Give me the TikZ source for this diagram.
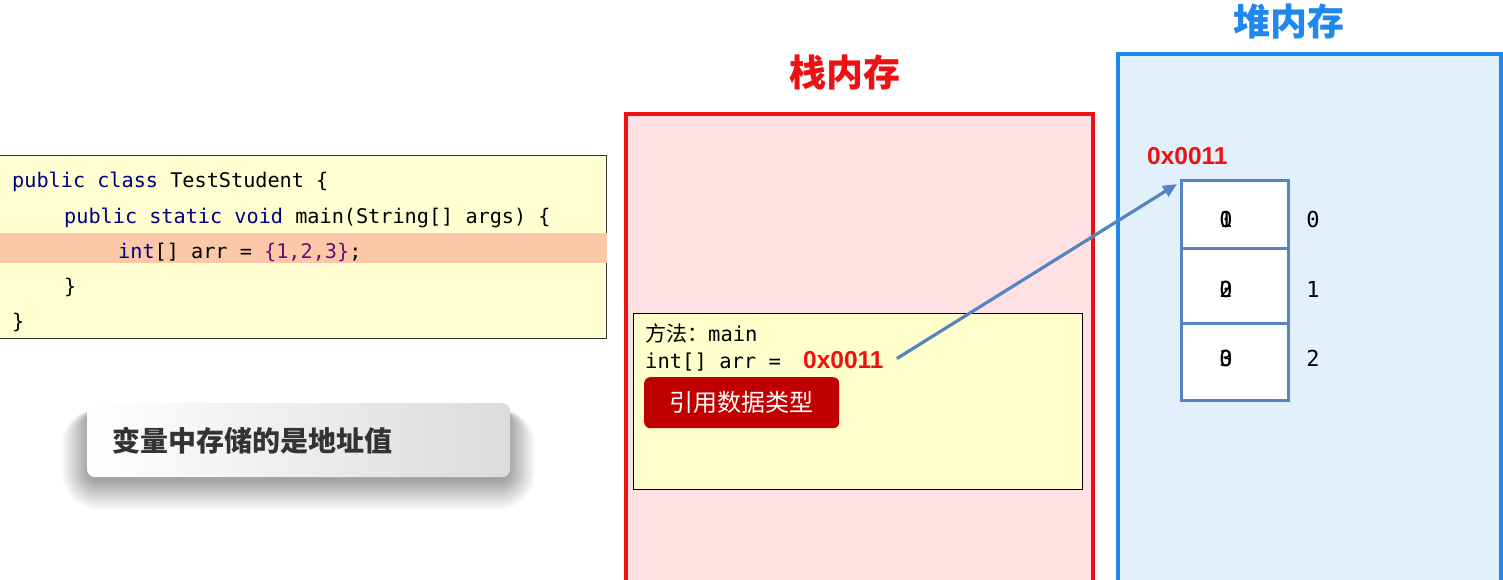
\documentclass[tikz,border=0pt]{standalone}
\usepackage{fontspec}
\setmainfont{Noto Sans}
\newfontfamily\cjk{Noto Sans CJK SC}
\newfontfamily\monof{DejaVu Sans Mono}
\newfontfamily\addrfont{Liberation Sans}
\usetikzlibrary{arrows.meta}
\definecolor{codebg}{HTML}{FFFFD2}
\definecolor{hilite}{HTML}{FBC9A8}
\definecolor{stackbg}{HTML}{FFE1E3}
\definecolor{stackred}{HTML}{EE1111}
\definecolor{heapbg}{HTML}{E1F0FB}
\definecolor{heapblue}{HTML}{1E88F0}
\definecolor{cellblue}{HTML}{5585C0}
\definecolor{framebg}{HTML}{FFFFCC}
\definecolor{btnred}{HTML}{C00000}
\definecolor{kwnavy}{HTML}{000080}
\definecolor{numpurple}{HTML}{660E7A}
\definecolor{addrred}{HTML}{EE1111}
\definecolor{tipgray}{HTML}{333333}
\tikzset{
  codeline/.style={anchor=base west, inner sep=0pt, font=\monof\fontsize{20.2}{24}\selectfont},
  framel/.style={anchor=base west, inner sep=0pt, font=\monof\fontsize{20.5}{24}\selectfont},
  title/.style={inner sep=0pt, font=\cjk\bfseries\fontsize{37}{40}\selectfont},
  cellbox/.style={draw=cellblue, line width=2.6pt, fill=white, minimum width=107pt, anchor=north west, inner sep=0pt},
  cellval/.style={inner sep=0pt, font=\monof\fontsize{22}{24}\selectfont},
  addr/.style={inner sep=0pt, text=addrred, font=\addrfont\bfseries\fontsize{24.5}{26}\selectfont},
  refarrow/.style={draw=cellblue, line width=3.2pt, -{Triangle[length=14pt,width=12pt]}},
}
\begin{document}
\begin{tikzpicture}[x=1pt,y=-1pt]
\useasboundingbox (0,0) rectangle (1503,580);
\clip (0,0) rectangle (1503,580);
\fill[white] (0,0) rectangle (1503,580);

% code box
\node[draw=black!80, line width=1.2pt, fill=codebg, anchor=north west, minimum width=608pt, minimum height=183pt, inner sep=0pt] (code) at (-2,155) {};
\fill[hilite] (0,233) rectangle (607,263);
\node[codeline] (l1) at (12,188) {\textcolor{kwnavy}{public class} TestStudent \{};
\node[codeline] (l2) at (64,223) {\textcolor{kwnavy}{public static void} main(String[] args) \{};
\node[codeline] (l3) at (118,258) {\textcolor{kwnavy}{int}[] arr = \textcolor{numpurple}{\{1,2,3\}};};
\node[codeline] (l4) at (64,293) {\}};
\node[codeline] (l5) at (12,328) {\}};

% tip box with soft shadow
\foreach \i in {1,...,32} {
  \fill[black, opacity=0.011, rounded corners={6pt+\i pt}]
    ({90-\i*0.9},{412-\i*0.1}) rectangle ({507+\i*0.9},{478+\i*1.0});
}
\node[rounded corners=8pt, left color=white, right color=black!14, anchor=north west,
      minimum width=423pt, minimum height=74pt, inner sep=0pt] (tip) at (87,403) {};
\node[anchor=west, inner sep=0pt, text=tipgray, font=\cjk\bfseries\fontsize{28}{30}\selectfont] (tiptext) at (112,441) {变量中存储的是地址值};

% stack
\node[draw=stackred, fill=stackbg, line width=4pt, anchor=north west, minimum width=467pt, minimum height=500pt, inner sep=0pt] (stack) at (624,112) {};
\node[title, text=stackred] (stacktitle) at (845,72) {栈内存};

% heap
\node[draw=heapblue, fill=heapbg, line width=4pt, anchor=north west, minimum width=383pt, minimum height=560pt, inner sep=0pt] (heap) at (1116,52) {};
\node[title, text=heapblue] (heaptitle) at (1289,21) {堆内存};

% frame
\node[draw=black, line width=1.2pt, fill=framebg, anchor=north west, minimum width=449pt, minimum height=176pt, inner sep=0pt] (frame) at (633,313) {};
\node[anchor=base west, inner sep=0pt] (method) at (645,341) {{\cjk\fontsize{21}{24}\selectfont 方法：}{\monof\fontsize{20.5}{24}\selectfont main}};
\node[framel] (var) at (645,368) {int[] arr =};
\node[addr, anchor=base west] (addr) at (803,368) {0x0011};
\node[fill=btnred, rounded corners=6pt, anchor=north west, minimum width=195pt, minimum height=51pt, inner sep=0pt,
      text=white, font=\cjk\fontsize{24}{26}\selectfont] (reftype) at (644,377) {引用数据类型};

% heap array
\node[cellbox, minimum height=68pt] (c0) at (1180,179) {};
\node[cellbox, minimum height=75pt] (c1) at (1180,247) {};
\node[cellbox, minimum height=77pt] (c2) at (1180,322) {};
\node[cellval] (v0a) at (1226,219) {0};
\node[cellval] (v0b) at (1226,219) {1};
\node[cellval] (v1a) at (1226,289) {0};
\node[cellval] (v1b) at (1226,289) {2};
\node[cellval] (v2a) at (1226,358) {0};
\node[cellval] (v2b) at (1226,358) {3};
\node[cellval] (i0) at (1313,219) {0};
\node[cellval] (i1) at (1313,289) {1};
\node[cellval] (i2) at (1313,358) {2};
\node[addr, anchor=base west] (haddr) at (1147,165) {0x0011};

% reference arrow
\draw[refarrow] ([xshift=13pt,yshift=1pt]addr.east) -- ([xshift=-3pt,yshift=-5pt]c0.north west);
\end{tikzpicture}
\end{document}
